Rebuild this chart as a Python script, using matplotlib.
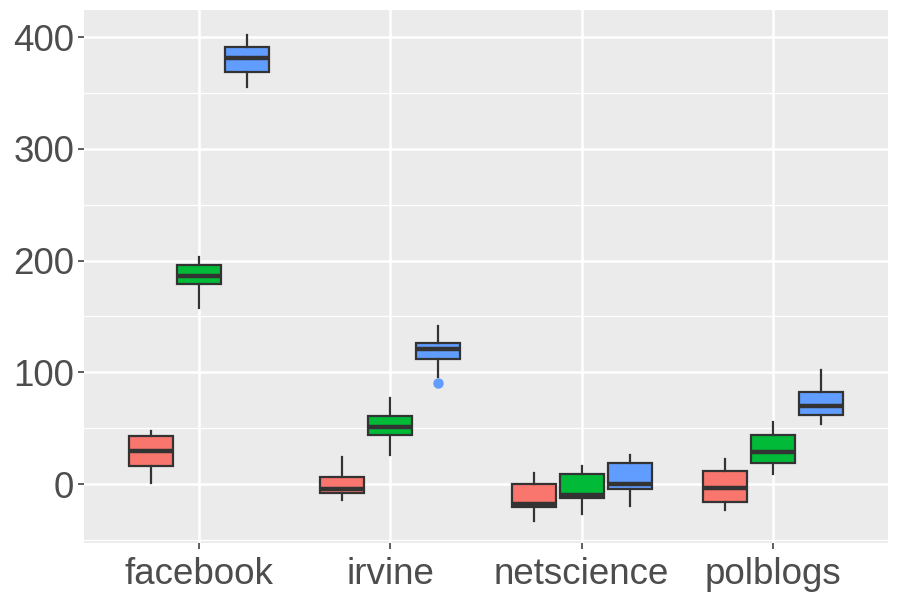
import matplotlib
matplotlib.use("Agg")
import matplotlib.pyplot as plt
from matplotlib.ticker import MultipleLocator

categories = ["facebook", "irvine", "netscience", "polblogs"]
colors = ["#F8766D", "#00BA38", "#619CFF"]

# per category, per group: (whislo, q1, med, q3, whishi)
red_stats = [(0.6, 16.4, 29.5, 43.0, 47.4),
             (-14.3, -8.3, -4.2, 6.0, 24.4),
             (-33.1, -20.3, -18.0, -0.3, 9.6),
             (-23.6, -16.4, -3.6, 11.9, 22.4)]
green_stats = [(157.2, 179.2, 186.4, 196.0, 203.4),
               (26.0, 43.6, 51.0, 61.1, 77.2),
               (-27.1, -12.8, -10.1, 9.2, 16.1),
               (8.9, 19.1, 28.6, 43.8, 55.7)]
blue_stats = [(355.5, 368.7, 381.5, 390.8, 401.8),
              (96.0, 112.1, 120.5, 125.9, 141.4),
              (-19.7, -4.7, 0.3, 18.5, 26.0),
              (53.4, 61.4, 70.0, 82.6, 102.0)]
blue_outliers = [[], [90.6], [], []]
red_outliers = [[], [], [], []]
green_outliers = [[], [], [], []]

yticks = [0, 100, 200, 300, 400]

fig = plt.figure(figsize=(9, 6), dpi=100)
ax = fig.add_axes([0.0933, 0.095, 0.8934, 0.8883])
ax.set_facecolor("#EBEBEB")

groups = [(red_stats, red_outliers), (green_stats, green_outliers), (blue_stats, blue_outliers)]
offsets = [-0.25, 0.0, 0.25]
for gi, (stats, outl) in enumerate(groups):
    bxs = []
    for ci, s in enumerate(stats):
        bxs.append(dict(whislo=s[0], q1=s[1], med=s[2], q3=s[3], whishi=s[4],
                        fliers=outl[ci]))
    pos = [i + 1 + offsets[gi] for i in range(len(categories))]
    ax.bxp(bxs, positions=pos, widths=0.23, patch_artist=True, showcaps=False,
           boxprops=dict(facecolor=colors[gi], edgecolor="#333333", linewidth=1.6),
           medianprops=dict(color="#333333", linewidth=3.2),
           whiskerprops=dict(color="#333333", linewidth=1.6),
           flierprops=dict(marker="o", markerfacecolor=colors[gi],
                           markeredgecolor=colors[gi], markersize=6.5),
           zorder=3)

ax.set_xlim(0.4, 4.6)
ax.set_ylim(-52.8, 424.2)
ax.set_xticks(range(1, len(categories) + 1))
ax.set_xticklabels(categories)
ax.set_yticks(yticks)
ax.yaxis.set_minor_locator(MultipleLocator(50))

ax.grid(True, which="major", color="white", linewidth=1.8, zorder=0)
ax.grid(True, which="minor", axis="y", color="white", linewidth=0.9, zorder=0)
ax.set_axisbelow(True)
for sp in ax.spines.values():
    sp.set_visible(False)

ax.tick_params(axis="both", which="major", length=4, width=1.1, color="#333333",
               labelcolor="#4D4D4D", labelsize=26.5, pad=3)
ax.tick_params(axis="x", which="major", pad=6)
ax.tick_params(axis="both", which="minor", length=0)
for lab in ax.get_xticklabels() + ax.get_yticklabels():
    lab.set_fontfamily("Liberation Sans")

fig.savefig("out.png", dpi=100)
